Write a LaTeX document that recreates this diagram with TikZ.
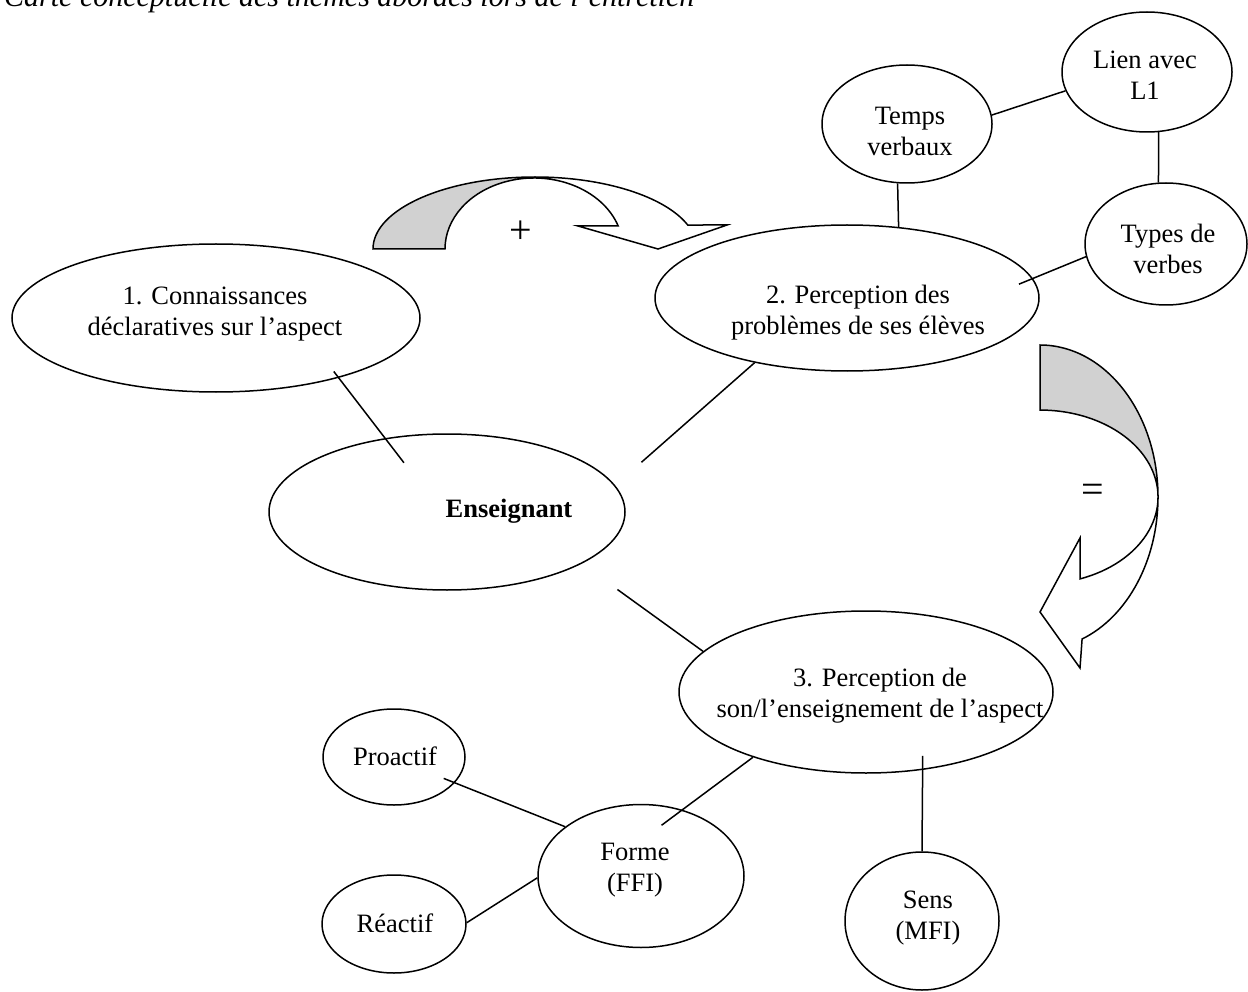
\documentclass[tikz,border=0pt]{standalone}
\usepackage{fontspec}
\setmainfont{Liberation Serif}
\usetikzlibrary{shapes.geometric}
\begin{document}
\begin{tikzpicture}[x=1pt,y=1pt,
  oval/.style={draw, ellipse, line width=1.5pt, inner sep=0pt},
  lbl/.style={align=center, font=\fontsize{26.5}{31}\selectfont, inner sep=0pt},
  link/.style={line width=1.5pt},
  band/.style={draw, line width=1.5pt, line join=miter},
  sign/.style={font=\fontsize{40}{40}\selectfont, inner sep=0pt},
]
\useasboundingbox (0,0) rectangle (1248,-992);

% title (cut at the top)
\node[anchor=base west, font=\fontsize{30}{36}\selectfont\itshape, inner sep=0pt] (title) at (4,-7)
  {Carte conceptuelle des thèmes abordés lors de l’entretien};

% ellipses
\node[oval, minimum width=408pt, minimum height=148pt] (n1) at (216,-318) {};
\node[oval, minimum width=384pt, minimum height=146pt] (n2) at (847,-298) {};
\node[oval, minimum width=356pt, minimum height=156pt] (ens) at (447,-512) {};
\node[oval, minimum width=374pt, minimum height=162pt] (n3) at (866,-692) {};
\node[oval, minimum width=170pt, minimum height=118pt] (tv) at (907,-124) {};
\node[oval, minimum width=170pt, minimum height=120pt] (lien) at (1147,-72) {};
\node[oval, minimum width=162pt, minimum height=122pt] (types) at (1166,-244) {};
\node[oval, minimum width=142pt, minimum height=96pt] (pro) at (394,-757) {};
\node[oval, minimum width=144pt, minimum height=98pt] (rea) at (394,-924) {};
\node[oval, minimum width=206pt, minimum height=143pt] (forme) at (641,-876) {};
\node[oval, minimum width=154pt, minimum height=138pt] (sens) at (922,-921) {};

% labels
\node[lbl] (n1t) at (215,-314) {1. Connaissances\\déclaratives sur l’aspect};
\node[lbl] (n2t) at (858,-313) {2. Perception des\\problèmes de ses élèves};
\node[lbl, font=\fontsize{26.5}{31}\selectfont\bfseries] (enst) at (509,-511) {Enseignant};
\node[lbl] (n3t) at (880,-696) {3. Perception de\\son/l’enseignement de l’aspect};
\node[lbl] (tvt) at (910,-131) {Temps\\verbaux};
\node[lbl] (lient) at (1145,-75) {Lien avec\\L1};
\node[lbl] (typest) at (1168,-249) {Types de\\verbes};
\node[lbl] (prot) at (395,-756) {Proactif};
\node[lbl] (reat) at (395,-923) {Réactif};
\node[lbl] (formet) at (635,-870) {Forme\\(FFI)};
\node[lbl] (senst) at (928,-918) {Sens\\(MFI)};

% connectors
\draw[link, shorten <=-8pt, shorten >=-31pt] (n1.-26.8) -- (ens.130.3);
\draw[link, shorten >=35pt] (n2.-145.5) -- (ens.9.2);
\draw[link, shorten <=44pt] (ens.-21.5) -- (n3.166.3);
\draw[link] (tv.-99.6) -- (n2.54.5);
\draw[link] (tv.6) -- (lien.193.7);
\draw[link] (lien.-79.6) -- (types.97.5);
\draw[link, shorten >=-15pt] (types.189.3) -- (n2.6.5);
\draw[link, shorten >=-26pt] (n3.-150.7) -- (forme.58);
\draw[link, shorten <=-14pt] (n3.-54) -- (sens.90);
\draw[link, shorten <=-12pt] (pro.-23) -- (forme.147.5);
\draw[link] (rea.1.6) -- (forme.181);

% curved arrow "+"
\fill[black!18] (373,-249) arc[start angle=180, end angle=90, x radius=162pt, y radius=72pt]
  -- (534,-178) arc[start angle=90, end angle=180, x radius=89pt, y radius=71pt] -- cycle;
\draw[band] (373,-249) arc[start angle=180, end angle=19.47, x radius=162pt, y radius=72pt]
  -- (727,-225) -- (658,-249) -- (578,-226) -- (618.2,-226)
  arc[start angle=18.9, end angle=180, x radius=89pt, y radius=71pt] -- cycle;
\node[sign] (plus) at (521,-232) {+};

% curved arrow "="
\fill[black!18] (1040,-345) arc[start angle=90, end angle=0, x radius=118pt, y radius=152pt]
  arc[start angle=0, end angle=90, x radius=118pt, y radius=87pt] -- cycle;
\draw[band] (1040,-345) arc[start angle=90, end angle=-69.1, x radius=118pt, y radius=152pt]
  -- (1080,-668) -- (1040,-612) -- (1080,-538) -- (1080,-578.9)
  arc[start angle=-70.2, end angle=90, x radius=118pt, y radius=87pt] -- cycle;
\node[sign] (eq) at (1093,-493) {=};
\end{tikzpicture}
\end{document}
